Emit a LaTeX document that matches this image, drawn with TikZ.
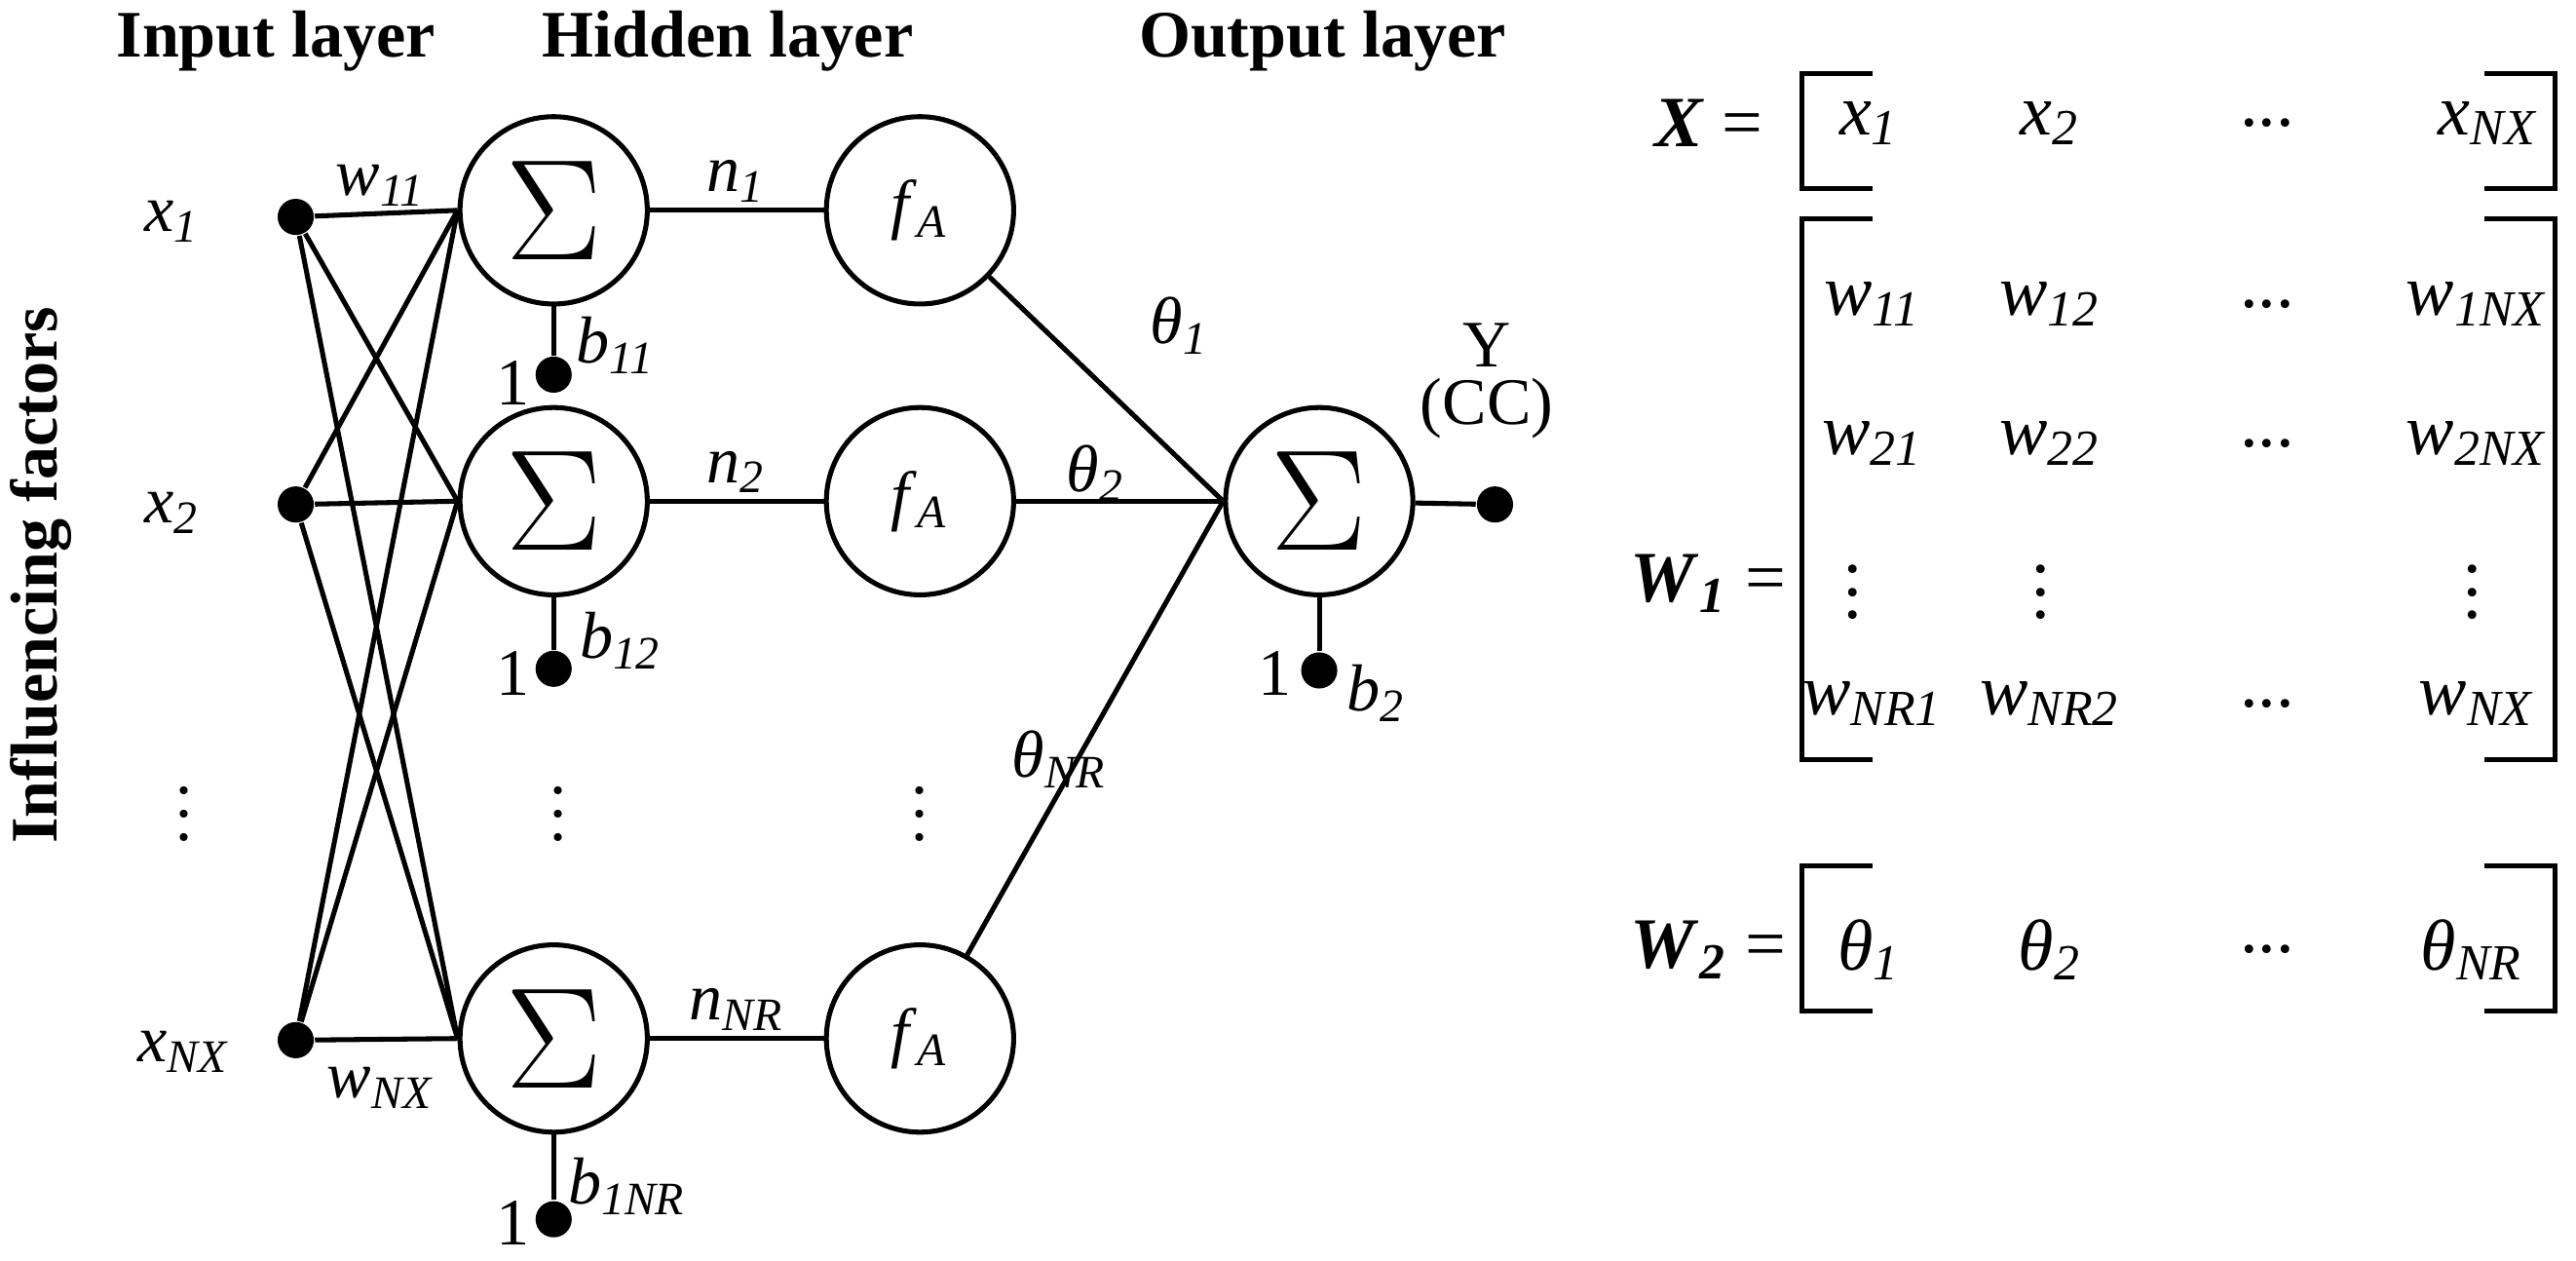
\documentclass[tikz,border=0pt]{standalone}
\usepackage{fontspec}
\setmainfont{Liberation Serif}
\usetikzlibrary{positioning,calc}
\newcommand\vsub[2]{\textit{#1}\textsubscript{\textit{#2}}}
\tikzset{
neuron/.style={circle, draw=black, line width=0.3mm, minimum size=11.4mm, inner sep=0pt},
dotnode/.style={circle, fill=black, minimum size=2.2mm, inner sep=0pt},
lbl/.style={font=\fontsize{11.5}{13}\selectfont, inner sep=1pt},
title/.style={font=\fontsize{11.5}{13}\selectfont\bfseries},
mat/.style={font=\fontsize{12.5}{14}\selectfont, inner sep=1pt},
sumsym/.style={font=\fontsize{30}{30}\selectfont},
wire/.style={line width=0.3mm}
}
\begin{document}
\begin{tikzpicture}[x=0.1mm,y=-0.1mm]
\useasboundingbox (0,0) rectangle (1568,767);

%Titles
\node[title] at (168,25) {Input layer};
\node[title] at (443,25) {Hidden layer};
\node[title] at (805,25) {Output layer};
\node[title,rotate=90] at (25,350) {Influencing factors};

%Input nodes
\node[dotnode] (i1) at (180,132) {};
\node[dotnode] (i2) at (180,307) {};
\node[dotnode] (i3) at (180,633) {};
\node[lbl] at (105,135) {\vsub{x}{1}};
\node[lbl] at (105,312) {\vsub{x}{2}};
\node[lbl] at (112,485) {$\vdots$};
\node[lbl] at (112,640) {\vsub{x}{NX}};

%Hidden layer
\node[neuron,sumsym] (h1) at (337,128) {$\Sigma$};
\node[neuron,sumsym] (h2) at (337,305) {$\Sigma$};
\node[neuron,sumsym] (h3) at (337,632) {$\Sigma$};
\node[lbl] at (340,485) {$\vdots$};
\node[dotnode] (b1) at (337,228) {};
\node[dotnode] (b2) at (337,407) {};
\node[dotnode] (b3) at (337,742) {};
\node[lbl] at (312,233) {1};
\node[lbl] at (312,410) {1};
\node[lbl] at (312,744) {1};
\node[lbl] at (375,210) {\vsub{b}{11}};
\node[lbl] at (378,390) {\vsub{b}{12}};
\node[lbl] at (382,722) {\vsub{b}{1NR}};
\draw[wire] (h1) -- (b1);
\draw[wire] (h2) -- (b2);
\draw[wire] (h3) -- (b3);

%Activation
\node[neuron,lbl] (f1) at (560,128) {\vsub{f}{A}};
\node[neuron,lbl] (f2) at (560,305) {\vsub{f}{A}};
\node[neuron,lbl] (f3) at (560,632) {\vsub{f}{A}};
\node[lbl] at (560,485) {$\vdots$};
\draw[wire] (h1) --node[above,lbl] {\vsub{n}{1}} (f1);
\draw[wire] (h2) --node[above,lbl] {\vsub{n}{2}} (f2);
\draw[wire] (h3) --node[above,lbl] {\vsub{n}{NR}} (f3);

%Input weights
\foreach \i in {1,2,3}
  \foreach \h in {1,2,3}
    \draw[wire] (i\i) -- (h\h.west);
\node[lbl] at (232,113) {\vsub{w}{11}};
\node[lbl] at (232,662) {\vsub{w}{NX}};

%Output
\node[neuron,sumsym] (o) at (803,305) {$\Sigma$};
\draw[wire] (f1) -- (o.west);
\draw[wire] (f2) -- (o.west);
\draw[wire] (f3) -- (o.west);
\node[lbl] at (718,198) {\textit{θ}\textsubscript{\textit{1}}};
\node[lbl] at (667,288) {\textit{θ}\textsubscript{\textit{2}}};
\node[lbl] at (645,462) {\textit{θ}\textsubscript{\textit{NR}}};
\node[dotnode] (y) at (910,307) {};
\draw[wire] (o) -- (y);
\node[lbl,align=center] at (905,232) {Y\\[-3pt](CC)};
\node[dotnode] (bo) at (803,408) {};
\draw[wire] (o) -- (bo);
\node[lbl] at (776,410) {1};
\node[lbl] at (838,422) {\vsub{b}{2}};

%Matrices
\node[mat] at (1040,75) {\textbf{\textit{X}} =};
\node[mat] at (1040,355) {\textbf{\textit{W}}\textsubscript{\textbf{\textit{1}}} =};
\node[mat] at (1040,578) {\textbf{\textit{W}}\textsubscript{\textbf{\textit{2}}} =};
\foreach \ya/\yb in {45/115,133/462,527/615}{
  \draw[wire] (1140,\ya) -- (1097,\ya) -- (1097,\yb) -- (1140,\yb);
  \draw[wire] (1512,\ya) -- (1555,\ya) -- (1555,\yb) -- (1512,\yb);
}
\node[mat] at (1138,75) {\vsub{x}{1}};
\node[mat] at (1248,75) {\vsub{x}{2}};
\node[mat] at (1380,75) {...};
\node[mat] at (1515,75) {\vsub{x}{NX}};
\node[mat] at (1140,185) {\vsub{w}{11}};
\node[mat] at (1248,185) {\vsub{w}{12}};
\node[mat] at (1380,185) {...};
\node[mat] at (1508,185) {\vsub{w}{1NX}};
\node[mat] at (1140,270) {\vsub{w}{21}};
\node[mat] at (1248,270) {\vsub{w}{22}};
\node[mat] at (1380,270) {...};
\node[mat] at (1508,270) {\vsub{w}{2NX}};
\node[mat] at (1128,350) {$\vdots$};
\node[mat] at (1242,350) {$\vdots$};
\node[mat] at (1505,350) {$\vdots$};
\node[mat] at (1140,428) {\vsub{w}{NR1}};
\node[mat] at (1248,428) {\vsub{w}{NR2}};
\node[mat] at (1380,428) {...};
\node[mat] at (1508,428) {\vsub{w}{NX}};
\node[mat] at (1138,578) {\textit{θ}\textsubscript{\textit{1}}};
\node[mat] at (1248,578) {\textit{θ}\textsubscript{\textit{2}}};
\node[mat] at (1380,578) {...};
\node[mat] at (1505,578) {\textit{θ}\textsubscript{\textit{NR}}};
\end{tikzpicture}
\end{document}
